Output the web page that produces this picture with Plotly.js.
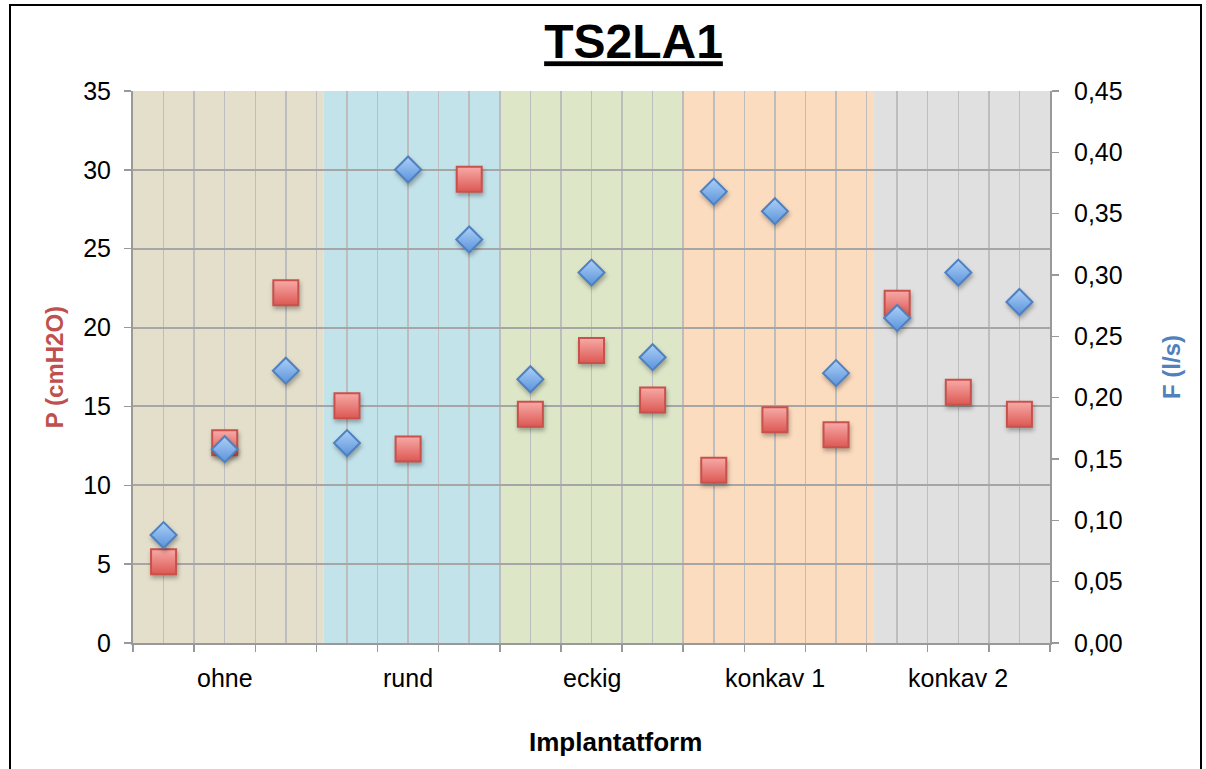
<!DOCTYPE html>
<html>
<head>
<meta charset="utf-8">
<script src="https://cdn.plot.ly/plotly-3.0.1.min.js"></script>
<style>
  html, body { margin: 0; padding: 0; background: #fff; overflow: hidden; }
  #frame { position: absolute; left: 9px; top: 4px; width: 1189px; height: 800px; border: 2px solid #000; box-sizing: content-box; }
  #chart { position: absolute; left: 0; top: 0; width: 1206px; height: 769px; }
  .scatterlayer .points path { filter: drop-shadow(1px 3px 2px rgba(0,0,0,0.3)); }
</style>
</head>
<body>
<div id="frame"></div>
<div id="chart"></div>
<script>
// ---- data ----
const groups = ['ohne', 'rund', 'eckig', 'konkav 1', 'konkav 2'];
const pointsPerGroup = 3;
const pressure = [5.15, 12.7, 22.2, 15.05, 12.3, 29.4, 14.5, 18.55, 15.4, 10.95, 14.15, 13.2, 21.55, 15.9, 14.5];   // P (cmH2O)
const flow = [0.088, 0.158, 0.222, 0.163, 0.386, 0.329, 0.215, 0.302, 0.233, 0.368, 0.352, 0.220, 0.265, 0.302, 0.278]; // F (l/s)
const bandColors = ['#e3dfcb', '#c3e3eb', '#dde6c7', '#fcdcbf', '#e0e0e0'];
const bandEdges = [-0.5, 2.62, 5.5, 8.5, 11.62, 14.5];
const xTitle = 'Implantatform';

const xIdx = pressure.map((_, i) => i);
const font = 'Liberation Sans, Arial, Helvetica, sans-serif';

const traces = [
  {
    x: xIdx, y: pressure, type: 'scatter', mode: 'markers', name: 'P', yaxis: 'y',
    marker: { symbol: 'square', size: 25, color: '#f7aaa7',
      gradient: { type: 'vertical', color: '#dc5853' },
      line: { color: '#c9514c', width: 2 } },
    hoverinfo: 'x+y'
  },
  {
    x: xIdx, y: flow, type: 'scatter', mode: 'markers', name: 'F', yaxis: 'y2',
    marker: { symbol: 'diamond', size: 20, color: '#acd0f7',
      gradient: { type: 'vertical', color: '#5b93db' },
      line: { color: '#4f81c0', width: 2 } },
    hoverinfo: 'x+y'
  }
];

const shapes = bandColors.map((c, i) => ({
  type: 'rect', xref: 'x', yref: 'paper', layer: 'below',
  x0: bandEdges[i], x1: bandEdges[i + 1], y0: 0, y1: 1,
  fillcolor: c, line: { width: 0 }
}));

const annotations = groups.map((g, i) => ({
  text: g, xref: 'x', yref: 'paper', x: i * pointsPerGroup + (pointsPerGroup - 1) / 2, y: 0,
  yanchor: 'middle', xanchor: 'center', yshift: -35, showarrow: false,
  font: { family: font, size: 25, color: '#000' }
}));
annotations.push({
  text: '<b>' + xTitle + '</b>', xref: 'paper', yref: 'paper', x: 0.5267, y: 0,
  yanchor: 'middle', xanchor: 'center', yshift: -99, showarrow: false,
  font: { family: font, size: 26, color: '#000' }
});

const layout = {
  width: 1206, height: 769,
  margin: { l: 133, r: 156, t: 91, b: 126 },
  paper_bgcolor: 'rgba(0,0,0,0)', plot_bgcolor: 'rgba(0,0,0,0)',
  showlegend: false,
  separators: ',.',
  title: {
    text: 'TS2LA1', xref: 'container', yref: 'container', x: 0.5253, xanchor: 'center',
    y: 0.946, yanchor: 'middle',
    font: { family: font, size: 48, color: '#000', weight: 'bold', lineposition: 'under' }
  },
  xaxis: {
    range: [-0.5, 14.5], tickmode: 'linear', tick0: -0.5, dtick: 1,
    ticks: 'outside', ticklen: 7, tickwidth: 1.5, tickcolor: '#999',
    showticklabels: false, showgrid: true, gridcolor: '#bdbdbd', gridwidth: 1.5,
    minor: { dtick: 0.5, showgrid: true, gridcolor: '#bdbdbd', gridwidth: 1.5, ticks: '' },
    showline: true, linecolor: '#999', linewidth: 2, zeroline: false, fixedrange: true
  },
  yaxis: {
    range: [0, 35], dtick: 5, tickmode: 'linear', tick0: 0,
    ticks: 'outside', ticklen: 7, tickwidth: 1.5, tickcolor: '#999', ticklabelstandoff: 8,
    tickfont: { family: font, size: 25, color: '#000' },
    showgrid: true, gridcolor: '#a6a6a6', gridwidth: 2,
    showline: true, linecolor: '#999', linewidth: 2, zeroline: false, fixedrange: true,
    title: { text: 'P (cmH2O)', standoff: 13, font: { family: font, size: 24, color: '#c0504d', weight: 'bold' } }
  },
  yaxis2: {
    range: [0, 0.45], dtick: 0.05, tickmode: 'linear', tick0: 0, tickformat: '.2f',
    overlaying: 'y', side: 'right',
    ticks: 'outside', ticklen: 7, tickwidth: 1.5, tickcolor: '#999', ticklabelstandoff: 10,
    tickfont: { family: font, size: 25, color: '#000' },
    showgrid: false, showline: true, linecolor: '#999', linewidth: 2, zeroline: false, fixedrange: true,
    title: { text: 'F (l/s)', standoff: 42, font: { family: font, size: 24, color: '#4f81bd', weight: 'bold' } }
  },
  shapes: shapes,
  annotations: annotations
};

Plotly.newPlot('chart', traces, layout, { displayModeBar: false, staticPlot: true });
</script>
</body>
</html>
